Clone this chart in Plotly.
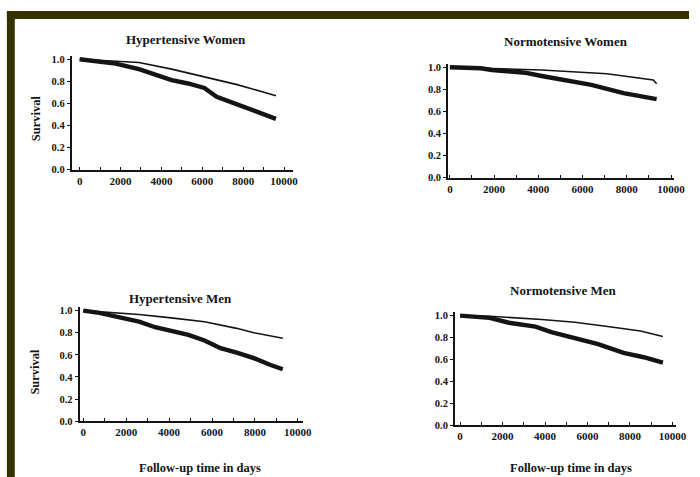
import plotly.graph_objects as go

# ---- data ----
x_ticks = [0, 2000, 4000, 6000, 8000, 10000]
y_ticks = [0.0, 0.2, 0.4, 0.6, 0.8, 1.0]
panel_titles = ["Hypertensive Women", "Normotensive Women", "Hypertensive Men", "Normotensive Men"]

hw_thin_x = [0, 1100, 2900, 4500, 6100, 7700, 9600]
hw_thin_y = [1.0, 0.99, 0.97, 0.91, 0.84, 0.77, 0.67]
hw_thick_x = [0, 1100, 1760, 2900, 3700, 4500, 5300, 6100, 6700, 7700, 8650, 9600]
hw_thick_y = [1.0, 0.98, 0.96, 0.91, 0.86, 0.81, 0.78, 0.74, 0.66, 0.59, 0.53, 0.46]

nw_thin_x = [0, 2000, 4150, 7100, 8750, 9200, 9350]
nw_thin_y = [1.0, 0.99, 0.975, 0.94, 0.90, 0.885, 0.85]
nw_thick_x = [0, 1400, 1900, 3400, 4150, 5200, 6400, 7850, 9350]
nw_thick_y = [1.0, 0.99, 0.975, 0.95, 0.92, 0.885, 0.84, 0.765, 0.71]

hm_thin_x = [0, 750, 2600, 4100, 5650, 7150, 7950, 9300]
hm_thin_y = [1.0, 0.99, 0.965, 0.935, 0.90, 0.84, 0.80, 0.75]
hm_thick_x = [0, 750, 1800, 2600, 3350, 4100, 4900, 5650, 6400, 7150, 7950, 8700, 9300]
hm_thick_y = [1.0, 0.98, 0.935, 0.90, 0.85, 0.82, 0.78, 0.73, 0.66, 0.62, 0.57, 0.51, 0.47]

nm_thin_x = [0, 1400, 3850, 5400, 6950, 8500, 9550]
nm_thin_y = [1.0, 0.995, 0.965, 0.94, 0.90, 0.86, 0.81]
nm_thick_x = [0, 1400, 2300, 3550, 4300, 5400, 6500, 7700, 8650, 9550]
nm_thick_y = [1.0, 0.98, 0.935, 0.90, 0.85, 0.80, 0.74, 0.66, 0.62, 0.57]

W, H = 700, 477
FIG_H = 484
def fx(px):
    return px / W
def fy(py):
    return 1 - py / H

FONT = "Liberation Serif"
INK = "#141414"

# panel geometry: (x_left_px, x_right_px, y_top_px, y_bottom_px, xrange)
panels = [
    (72, 297, 54, 168, [-385, 10430]),
    (455, 685, 62, 176, [-76, 10147]),
    (80, 307, 306, 420, [-170, 10229]),
    (462, 687, 311, 424, [-236, 10180]),
]
series = [
    (hw_thin_x, hw_thin_y, hw_thick_x, hw_thick_y),
    (nw_thin_x, nw_thin_y, nw_thick_x, nw_thick_y),
    (hm_thin_x, hm_thin_y, hm_thick_x, hm_thick_y),
    (nm_thin_x, nm_thin_y, nm_thick_x, nm_thick_y),
]

fig = go.Figure()
layout = dict(
    width=W, height=FIG_H, margin=dict(l=0, r=0, t=0, b=0),
    paper_bgcolor="white", plot_bgcolor="white", showlegend=False,
)

for i, ((xl, xr, yt, yb, xr_), (tx, ty, kx, ky)) in enumerate(zip(panels, series)):
    n = "" if i == 0 else str(i + 1)
    xa, ya = "x" + n, "y" + n
    fig.add_trace(go.Scatter(x=tx, y=ty, mode="lines", xaxis=xa, yaxis=ya,
                             line=dict(color=INK, width=1.6)))
    fig.add_trace(go.Scatter(x=kx, y=ky, mode="lines", xaxis=xa, yaxis=ya,
                             line=dict(color=INK, width=4.4)))
    layout["xaxis" + n] = dict(
        domain=[fx(xl), fx(xr)], anchor=ya, range=xr_,
        showgrid=False, zeroline=False, showline=True, linecolor=INK, linewidth=1.5,
        tickvals=x_ticks, ticktext=[str(v) for v in x_ticks],
        ticks="inside", ticklen=3, tickcolor=INK, tickwidth=1,
        minor=dict(dtick=1000, ticks="inside", ticklen=3, tickcolor=INK, showgrid=False),
        tickfont=dict(family=FONT, size=11, color=INK, weight="bold"),
    )
    layout["yaxis" + n] = dict(
        domain=[fy(yb), fy(yt)], anchor=xa, range=[0, 1.03],
        showgrid=False, zeroline=False, showline=True, linecolor=INK, linewidth=2,
        tickvals=y_ticks, ticktext=["%.1f" % v for v in y_ticks],
        ticks="outside", ticklen=3, tickcolor=INK, tickwidth=1,
        tickfont=dict(family=FONT, size=10.5, color=INK, weight="bold"),
    )

fig.update_layout(**layout)

annots = []
title_pos = [(188, 38), (575, 40), (183, 297), (572, 289)]
for t, (px, py) in zip(panel_titles, title_pos):
    annots.append(dict(text="<b>%s</b>" % t, x=fx(px), y=fy(py), xref="paper", yref="paper",
                       showarrow=False, xanchor="center", yanchor="middle",
                       font=dict(family=FONT, size=13, color=INK)))
for px, py in [(35, 116), (35, 370)]:
    annots.append(dict(text="<b>Survival</b>", x=fx(px), y=fy(py), xref="paper", yref="paper",
                       showarrow=False, textangle=-90, xanchor="center", yanchor="middle",
                       font=dict(family=FONT, size=12.5, color=INK)))
for px, py in [(202, 476), (580, 476)]:
    annots.append(dict(text="<b>Follow-up time in days</b>", x=fx(px), y=fy(py), xref="paper", yref="paper",
                       showarrow=False, xanchor="center", yanchor="bottom",
                       font=dict(family=FONT, size=12.5, color=INK)))
fig.update_layout(annotations=annots)

# dark frame along top and left edges
fig.add_shape(type="rect", xref="paper", yref="paper", x0=fx(6), x1=1, y0=fy(17), y1=fy(9),
              fillcolor="#333100", line=dict(width=0), layer="above")
fig.add_shape(type="rect", xref="paper", yref="paper", x0=fx(6), x1=fx(14), y0=0, y1=fy(9),
              fillcolor="#333100", line=dict(width=0), layer="above")

fig.write_html(
    "out.html", config={"displayModeBar": False},
    post_script="document.body.style.margin='0';document.body.style.overflow='hidden';",
)
